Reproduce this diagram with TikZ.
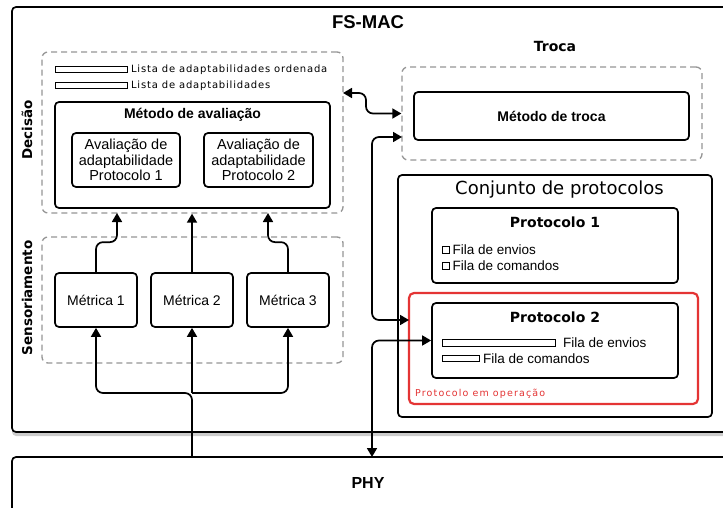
\documentclass[tikz,border=0pt]{standalone}
\usepackage{xcolor}
\usepackage{fontspec}
\setmainfont{Liberation Sans}
\newfontfamily\dvu{DejaVu Sans}
\newfontfamily\dvusp[LetterSpace=8]{DejaVu Sans}
\newfontfamily\dvuwide[LetterSpace=12]{DejaVu Sans}
\usepackage{tikz}
\usetikzlibrary{arrows.meta,positioning,shadows}
\definecolor{zonegray}{RGB}{150,150,150}
\definecolor{opred}{RGB}{228,52,52}

\begin{document}
\begin{tikzpicture}[x=1pt,y=-1pt]
			\tikzstyle{box} = [draw, line width=1.7pt, rounded corners=4pt, fill=white, inner sep=0pt]
			\tikzstyle{zone} = [draw=zonegray, dash pattern=on 6pt off 4pt, line width=1.3pt, rounded corners=6pt, inner sep=0pt]
			\tikzstyle{bar} = [draw, line width=0.9pt, inner sep=0pt, anchor=west]
			\tikzstyle{small} = [font=\dvusp\fontsize{10}{11}\selectfont, inner sep=1pt]
			\tikzstyle{side} = [font=\dvu\bfseries\fontsize{13.5}{14}\selectfont, rotate=90]
			\tikzstyle{btitle} = [font=\bfseries\fontsize{14}{15}\selectfont]
			\tikzstyle{ptitle} = [font=\dvu\bfseries\fontsize{14}{15}\selectfont]
			\tikzstyle{item} = [font=\fontsize{13.5}{14}\selectfont, inner sep=1pt]
			\tikzset{arr/.style = {line width=1.7pt, rounded corners=7pt, -{Triangle[length=9pt,width=10pt]}},
				biarr/.style = {arr, {Triangle[length=9pt,width=10pt]}-{Triangle[length=9pt,width=10pt]}}}
			
			\clip (0,0) rectangle (723,508);
			
			% camada MAC
			\node[box, minimum width=728pt, minimum height=425pt,
				drop shadow={shadow xshift=0pt, shadow yshift=-4pt, opacity=0.4}](fsmac) at (376,219.5) {};
			\node[font=\bfseries\fontsize{18.5}{19}\selectfont](fsmactitle) at (368,22) {FS-MAC};
			
			% decisao
			\node[zone, minimum width=301pt, minimum height=161pt](decisao) at (192.5,132.5) {};
			\node[side](decisaolabel) at (27,130) {Decisão};
			\node[bar, minimum width=72pt, minimum height=5.5pt](lista1) at (55,69.5) {};
			\node[small, right=2pt of lista1](lista1text) {Lista de adaptabilidades ordenada};
			\node[bar, minimum width=72pt, minimum height=5.5pt](lista2) at (55,85.5) {};
			\node[small, right=2pt of lista2](lista2text) {Lista de adaptabilidades};
			\node[box, minimum width=275pt, minimum height=106pt](metodo) at (192.5,155) {};
			\node[btitle](metodotitle) at (192.5,115) {Método de avaliação};
			\node[box, minimum width=108pt, minimum height=54pt, align=center,
				font=\fontsize{14.5}{15.5}\selectfont](aval1) at (126,160) {Avaliação de\\adaptabilidade\\Protocolo 1};
			\node[box, minimum width=109pt, minimum height=54pt, align=center,
				font=\fontsize{14.5}{15.5}\selectfont](aval2) at (258.5,160) {Avaliação de\\adaptabilidade\\Protocolo 2};
			
			% sensoriamento
			\node[zone, minimum width=301pt, minimum height=126pt](sensor) at (192.5,300) {};
			\node[side](sensorlabel) at (27,298) {Sensoriamento};
			\node[box, minimum width=82pt, minimum height=54pt, font=\fontsize{14}{15}\selectfont](metrica1) at (96,300) {Métrica 1};
			\node[box, minimum width=82pt, minimum height=54pt, font=\fontsize{14}{15}\selectfont](metrica2) at (192,300) {Métrica 2};
			\node[box, minimum width=82pt, minimum height=54pt, font=\fontsize{14}{15}\selectfont](metrica3) at (288,300) {Métrica 3};
			
			% troca
			\node[ptitle](trocalabel) at (555,46) {Troca};
			\node[zone, minimum width=300pt, minimum height=93pt](troca) at (552,113.5) {};
			\node[box, minimum width=275pt, minimum height=48pt, btitle](metodotroca) at (551.5,116) {Método de troca};
			
			% protocolos
			\node[box, minimum width=314pt, minimum height=242pt](conjunto) at (555,296) {};
			\node[font=\dvu\fontsize{18}{19}\selectfont](conjuntotitle) at (559.5,189.5) {Conjunto de protocolos};
			\node[box, minimum width=246pt, minimum height=75pt](proto1) at (555,245.5) {};
			\node[ptitle](proto1title) at (555,222) {Protocolo 1};
			\node[draw, line width=0.9pt, minimum size=7pt, inner sep=0pt](fila1) at (445.5,249.5) {};
			\node[item, right=2pt of fila1](fila1text) {Fila de envios};
			\node[draw, line width=0.9pt, minimum size=7pt, inner sep=0pt](cmd1) at (445.5,265.5) {};
			\node[item, right=2pt of cmd1](cmd1text) {Fila de comandos};
			
			\node[draw=opred, line width=2.2pt, rounded corners=5pt, minimum width=289pt, minimum height=111pt](emop) at (553.5,348.5) {};
			\node[font=\dvuwide\fontsize{9.5}{10}\selectfont, text=opred, anchor=west, inner sep=0pt](emoplabel) at (415,394) {Protocolo em operação};
			\node[box, minimum width=246pt, minimum height=75pt](proto2) at (555,340.5) {};
			\node[ptitle](proto2title) at (555,317) {Protocolo 2};
			\node[bar, minimum width=113pt, minimum height=7pt](fila2) at (442,343) {};
			\node[item, right=6pt of fila2](fila2text) {Fila de envios};
			\node[bar, minimum width=37pt, minimum height=6.5pt](cmd2) at (442,358.5) {};
			\node[item, right=2pt of cmd2](cmd2text) {Fila de comandos};
			
			% camada fisica
			\node[box, minimum width=728pt, minimum height=83pt](phy) at (376,498.5) {};
			\node[font=\bfseries\fontsize{16}{17}\selectfont](phylabel) at (368,483) {PHY};
			
			% ligacoes
			\coordinate (d1) at (117,213);
			\coordinate (d3) at (268,213);
			\coordinate (split) at (192,393);
			\coordinate (dout) at (343,93);
			\coordinate (tin) at (402,137);
			\coordinate (rin) at (409,320);
			\coordinate (pin) at (372,457);
			\draw[arr](metrica1.north) -- ++(0,-30) -| (d1);
			\draw[arr](metrica2.north) -- (metrica2.north |- decisao.south);
			\draw[arr](metrica3.north) -- ++(0,-30) -| (d3);
			\draw[arr](phy.north -| split) -- (split) -| (metrica1.south);
			\draw[arr](split) -| (metrica3.south);
			\draw[arr](split) -- (metrica2.south);
			\draw[biarr](dout) -- ++(23,0) |- (troca.west);
			\draw[biarr](tin) -- ++(-30,0) |- (rin);
			\draw[biarr](proto2.west) -| (pin);
			
			\end{tikzpicture}
\end{document}
